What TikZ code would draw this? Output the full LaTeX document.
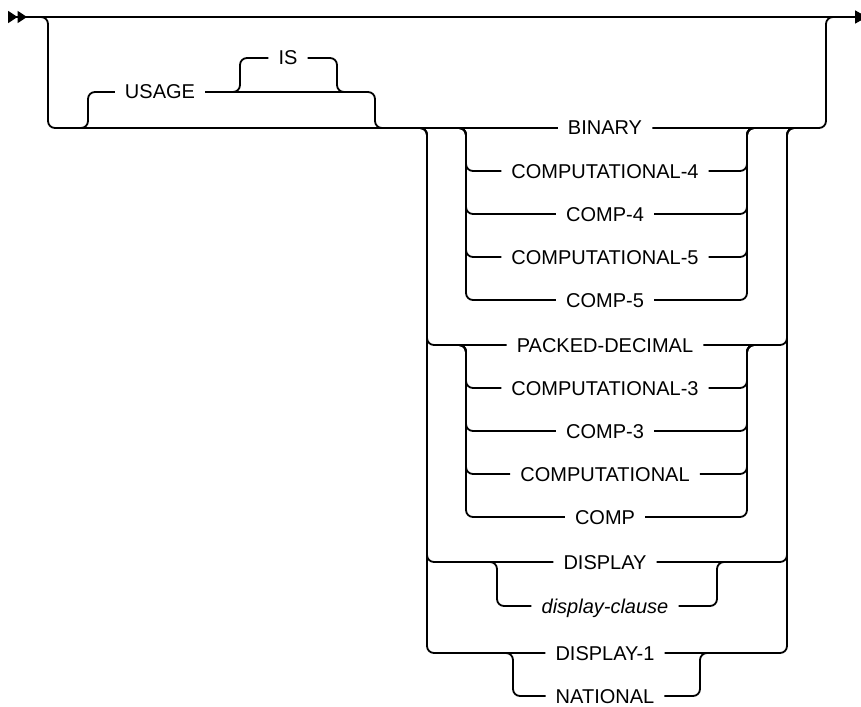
\documentclass[tikz,border=0pt]{standalone}
\usepackage{fontspec}
\setmainfont{Liberation Sans}
\usetikzlibrary{arrows.meta}

\begin{document}
\begin{tikzpicture}[x=1pt,y=-1pt,
    rail/.style={line width=1.8pt,rounded corners=7pt},
    kw/.style={font=\fontsize{20}{22}\selectfont,inner xsep=10pt,inner ysep=0pt,text height=16pt,text depth=2pt},
    var/.style={kw,font=\fontsize{20}{22}\selectfont\itshape}]
  \useasboundingbox (0,0) rectangle (861,706);
  % main line with the optional clause underneath
  \coordinate (start) at (8,17); \coordinate (finish) at (867,17);
  \coordinate (mainL) at (28,17); \coordinate (mainR) at (846,17);
  \coordinate (obl) at (48,128); \coordinate (obr) at (826,128);
  \draw[line width=1.8pt,{Triangle[length=9.5pt,width=12pt,reversed]Triangle[length=9.5pt,width=12pt,reversed]}-{Triangle[length=12pt,width=13pt]}] (start) -- (finish);
  \node[kw] (binary) at (605,128) {BINARY};
  \draw[rail] (mainL) -| (obl) -- (binary);
  \draw[rail] (binary) -- (obr) |- (mainR);
  % USAGE IS
  \node[kw] (usage) at (160,92) {USAGE};
  \node[kw] (is) at (288,58) {IS};
  \coordinate (ua) at (76,128); \coordinate (ue) at (387,128);
  \coordinate (isa) at (228,92); \coordinate (isb) at (349,92);
  \draw[rail] (ua) -| (88,92) -- (usage);
  \draw[rail] (usage) -| (375,128) -- (ue);
  \draw[rail] (isa) -| (240,58) -- (is);
  \draw[rail] (is) -| (337,92) -- (isb);
  % main choice
  \coordinate (gls) at (415,128); \coordinate (gl) at (427,128);
  \coordinate (gr) at (787,128); \coordinate (grs) at (799,128);
  \node[kw] (packed) at (605,345) {PACKED-DECIMAL};
  \node[kw] (display) at (605,562) {DISPLAY};
  \node[kw] (display1) at (605,653) {DISPLAY-1};
  \foreach \n in {packed,display,display1}{
    \draw[rail] (gls) -| (\n -| gl) -- (\n);
    \draw[rail] (\n) -| (gr) -- (grs);
  }
  % binary group
  \coordinate (als) at (454,128); \coordinate (al) at (466,128);
  \coordinate (ar) at (747,128); \coordinate (ars) at (759,128);
  \foreach \n/\t/\y in {c4/COMPUTATIONAL-4/171,cp4/COMP-4/214,c5/COMPUTATIONAL-5/257,cp5/COMP-5/300}{
    \node[kw] (\n) at (605,\y) {\t};
    \draw[rail] (als) -| (\n -| al) -- (\n);
    \draw[rail] (\n) -| (ar) -- (ars);
  }
  % packed-decimal group
  \coordinate (bls) at (454,345); \coordinate (bl) at (466,345);
  \coordinate (br) at (747,345); \coordinate (brs) at (759,345);
  \foreach \n/\t/\y in {c3/COMPUTATIONAL-3/388,cp3/COMP-3/431,c0/COMPUTATIONAL/474,cp0/COMP/517}{
    \node[kw] (\n) at (605,\y) {\t};
    \draw[rail] (bls) -| (\n -| bl) -- (\n);
    \draw[rail] (\n) -| (br) -- (brs);
  }
  % display group
  \coordinate (cls) at (485,562); \coordinate (cl) at (497,562);
  \coordinate (cr) at (717,562); \coordinate (crs) at (729,562);
  \node[var] (clause) at (605,606) {display-clause};
  \draw[rail] (cls) -| (clause -| cl) -- (clause);
  \draw[rail] (clause) -| (cr) -- (crs);
  % display-1 group
  \coordinate (dls) at (501,653); \coordinate (dl) at (513,653);
  \coordinate (dr) at (700,653); \coordinate (drs) at (712,653);
  \node[kw] (national) at (605,696) {NATIONAL};
  \draw[rail] (dls) -| (national -| dl) -- (national);
  \draw[rail] (national) -| (dr) -- (drs);
\end{tikzpicture}
\end{document}
